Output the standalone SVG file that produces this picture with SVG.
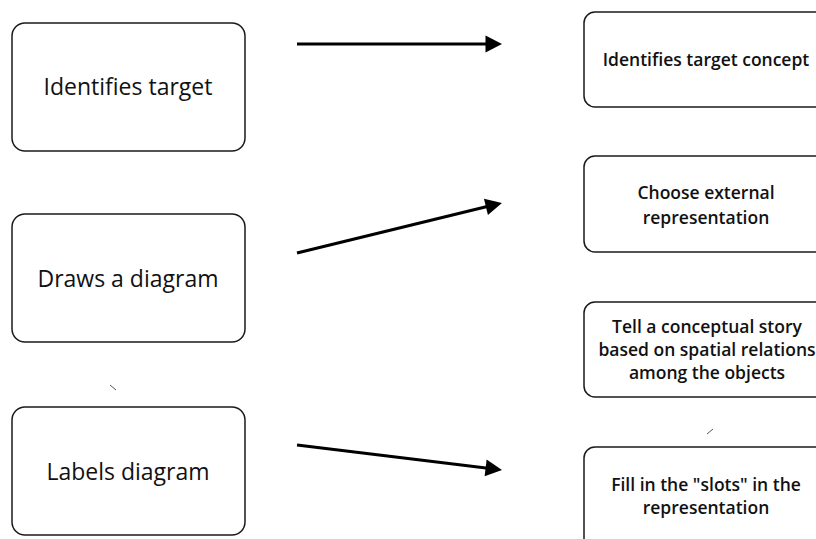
<svg xmlns="http://www.w3.org/2000/svg" width="816" height="539" viewBox="0 0 816 539">
  <style>
    .box { fill: #ffffff; stroke: #1a1a1a; stroke-width: 1.5; }
    .big { font-family: "Open Sans", "Noto Sans", sans-serif; font-size: 23px; font-weight: 500; fill: #111; text-anchor: middle; }
    .small { font-family: "Open Sans", "Noto Sans", sans-serif; font-size: 17.5px; font-weight: 600; fill: #111; text-anchor: middle; }
    .conn { stroke: #000; stroke-width: 3; fill: none; marker-end: url(#head); }
    .speck { stroke: #555; stroke-width: 1; fill: none; }
  </style>
  <defs>
    <marker id="head" markerWidth="6" markerHeight="6" refX="1.5" refY="2.8" orient="auto" markerUnits="strokeWidth" overflow="visible">
      <path d="M0,0 L5.5,2.8 L0,5.6 Z" fill="#000"/>
    </marker>
  </defs>
  <rect width="816" height="539" fill="#ffffff"/>

  <!-- left column: actions -->
  <g id="identifies-target">
    <rect class="box" x="12" y="23" width="233" height="128" rx="13"/>
    <text class="big" x="128" y="95">Identifies target</text>
  </g>
  <g id="draws-diagram">
    <rect class="box" x="12" y="214" width="233" height="128" rx="13"/>
    <text class="big" x="128" y="287">Draws a diagram</text>
  </g>
  <g id="labels-diagram">
    <rect class="box" x="12" y="407" width="233" height="128" rx="13"/>
    <text class="big" x="128" y="480">Labels diagram</text>
  </g>

  <!-- right column: cognitive steps -->
  <g id="identifies-concept">
    <rect class="box" x="584" y="12" width="250" height="95" rx="11"/>
    <text class="small" x="706" y="66">Identifies target concept</text>
  </g>
  <g id="choose-representation">
    <rect class="box" x="584" y="156" width="250" height="96" rx="11"/>
    <text class="small" x="706" y="199">Choose external</text>
    <text class="small" x="706" y="224">representation</text>
  </g>
  <g id="conceptual-story">
    <rect class="box" x="584" y="302" width="250" height="95" rx="11"/>
    <text class="small" x="707" y="333">Tell a conceptual story</text>
    <text class="small" x="707" y="356">based on spatial relations</text>
    <text class="small" x="707" y="379">among the objects</text>
  </g>
  <g id="fill-slots">
    <rect class="box" x="584" y="447" width="250" height="110" rx="11"/>
    <text class="small" x="706" y="491">Fill in the "slots" in the</text>
    <text class="small" x="706" y="514">representation</text>
  </g>

  <!-- connectors -->
  <g id="connectors">
    <line class="conn" x1="297" y1="44" x2="490" y2="44"/>
    <line class="conn" x1="297" y1="253" x2="490.3" y2="205.8"/>
    <line class="conn" x1="297" y1="445" x2="490.1" y2="468.5"/>
  </g>

  <!-- small stray marks -->
  <line class="speck" x1="110" y1="385" x2="116" y2="390"/>
  <line class="speck" x1="713" y1="429" x2="707" y2="434"/>
</svg>
